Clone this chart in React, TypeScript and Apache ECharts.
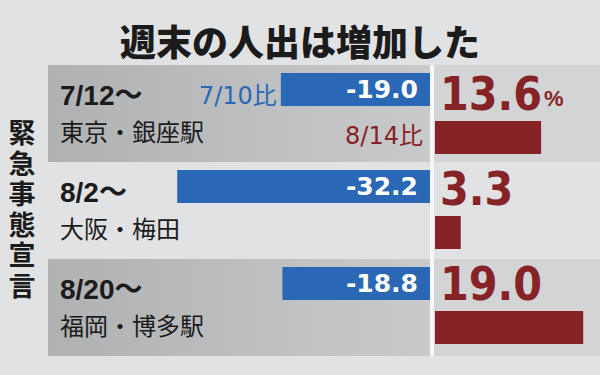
import React, { useEffect, useRef } from 'react';
import * as echarts from 'echarts';

// ---- data ----
const title = '週末の人出は増加した';
const sideLabel = ['緊', '急', '事', '態', '宣', '言'];
const rowDates = ['7/12～', '8/2～', '8/20～'];
const rowPlaces = ['東京・銀座駅', '大阪・梅田', '福岡・博多駅'];
const weekdayChange = [-19.0, -32.2, -18.8];
const weekendChange = [13.6, 3.3, 19.0];
const blueCompare = ['7/10比', '', ''];
const redCompare = ['8/14比', '', ''];
const percentMark = ['%', '', ''];

const BLUE = '#2a68b6';
const RED = '#862326';
const INK = '#1b1b1b';
const BG = '#e1e2e4';
const JP = '"Noto Sans CJK JP", sans-serif';
const LAT = '"Liberation Sans", "Noto Sans CJK JP", sans-serif';
const WIDE = '"DejaVu Sans", "Noto Sans CJK JP", sans-serif';
const BIG = '"DejaVu Sans Condensed", "DejaVu Sans", sans-serif';

export default function App() {
  const ref = useRef<HTMLDivElement>(null);
  useEffect(() => {
    if (!ref.current) return;
    const chart = echarts.init(ref.current, undefined, { renderer: 'svg' });
    const bandGrad = new echarts.graphic.LinearGradient(0, 0, 1, 0, [
      { offset: 0, color: '#b0b1b3' },
      { offset: 1, color: '#c9cacc' },
    ]);
    const hiddenCat = (gridIndex: number) => ({
      gridIndex,
      type: 'category',
      inverse: true,
      data: rowDates,
      show: false,
    });
    const sideTexts = sideLabel.map((ch, i) => ({
      type: 'text',
      x: 22,
      y: 134 + i * 30.5,
      style: {
        text: ch,
        fontFamily: LAT,
        fontWeight: 'bold',
        fontSize: 27,
        fill: INK,
        align: 'center',
        verticalAlign: 'middle',
      },
    }));
    const option: any = {
      animation: false,
      backgroundColor: BG,
      title: {
        text: title,
        left: 'center',
        top: 17,
        textStyle: { fontFamily: JP, fontSize: 36, fontWeight: 900, color: INK },
      },
      grid: [
        { left: 48, top: 65, width: 382, height: 291 },
        { left: 434, top: 65, width: 166, height: 291 },
        { left: 116, top: 41, width: 314, height: 291 },
        { left: 435, top: 90, width: 156, height: 291 },
      ],
      xAxis: [
        { gridIndex: 0, type: 'value', show: false },
        { gridIndex: 1, type: 'value', show: false },
        { gridIndex: 2, type: 'value', min: -40, max: 0, show: false },
        { gridIndex: 3, type: 'value', min: 0, max: 20, show: false },
      ],
      yAxis: [
        {
          gridIndex: 0,
          type: 'category',
          inverse: true,
          data: rowDates,
          axisLine: { show: false },
          axisTick: { show: false },
          splitLine: { show: false },
          splitArea: { show: true, areaStyle: { color: [bandGrad, 'rgba(0,0,0,0)'] } },
          axisLabel: {
            inside: true,
            margin: 12,
            align: 'left',
            formatter: (v: string, i: number) => `{d|${v}}\n{n|${rowPlaces[i]}}`,
            rich: {
              d: { fontFamily: LAT, fontWeight: 'bold', fontSize: 28, color: INK, lineHeight: 34, padding: [0, 0, 3, 0] },
              n: { fontFamily: JP, fontSize: 24, color: INK, lineHeight: 34 },
            },
          },
        },
        {
          gridIndex: 1,
          type: 'category',
          inverse: true,
          data: rowDates,
          axisLine: { show: false },
          axisTick: { show: false },
          axisLabel: { show: false },
          splitLine: { show: false },
          splitArea: { show: true, areaStyle: { color: ['#d3d4d6', 'rgba(0,0,0,0)'] } },
        },
        hiddenCat(2),
        hiddenCat(3),
      ],
      graphic: [
        { type: 'rect', shape: { x: 430, y: 65, width: 4, height: 292 }, style: { fill: '#f6f6f6' } },
        ...sideTexts,
      ],
      series: [
        {
          type: 'bar',
          xAxisIndex: 2,
          yAxisIndex: 2,
          data: weekdayChange,
          barWidth: 33,
          barGap: '-100%',
          itemStyle: { color: BLUE },
          label: {
            show: true,
            position: 'insideRight',
            distance: 12,
            formatter: (p: any) => Number(p.value).toFixed(1),
            color: '#ffffff',
            fontFamily: WIDE,
            fontWeight: 'bold',
            fontSize: 25,
          },
        },
        {
          type: 'bar',
          xAxisIndex: 2,
          yAxisIndex: 2,
          data: weekdayChange,
          barWidth: 33,
          barGap: '-100%',
          silent: true,
          itemStyle: { color: 'rgba(0,0,0,0)' },
          label: {
            show: true,
            position: 'left',
            distance: 4,
            offset: [0, 6],
            formatter: (p: any) => blueCompare[p.dataIndex],
            color: BLUE,
            fontFamily: WIDE,
            fontSize: 24,
          },
        },
        {
          type: 'bar',
          xAxisIndex: 3,
          yAxisIndex: 3,
          data: weekendChange,
          barWidth: 33,
          barGap: '-100%',
          itemStyle: { color: RED },
          label: {
            show: true,
            position: [5, -27],
            align: 'left',
            verticalAlign: 'middle',
            formatter: (p: any) => {
              const v = Number(p.value).toFixed(1);
              const pm = percentMark[p.dataIndex];
              return pm ? `{v|${v}}{p|${pm}}` : `{v|${v}}`;
            },
            rich: {
              v: { fontFamily: BIG, fontWeight: 'bold', fontSize: 46, color: RED },
              p: { fontFamily: LAT, fontWeight: 'bold', fontSize: 22, color: RED, verticalAlign: 'bottom', padding: [0, 0, 8, 2] },
            },
          },
        },
        {
          type: 'bar',
          xAxisIndex: 3,
          yAxisIndex: 3,
          data: weekendChange,
          barWidth: 33,
          barGap: '-100%',
          silent: true,
          itemStyle: { color: 'rgba(0,0,0,0)' },
          label: {
            show: true,
            position: 'left',
            distance: 12,
            offset: [0, -2],
            formatter: (p: any) => redCompare[p.dataIndex],
            color: RED,
            fontFamily: WIDE,
            fontSize: 24,
          },
        },
      ],
    };
    chart.setOption(option);
    return () => chart.dispose();
  }, []);
  return (
    <div
      ref={ref}
      style={{ position: 'fixed', left: 0, top: 0, width: 600, height: 375, background: BG }}
    />
  );
}
